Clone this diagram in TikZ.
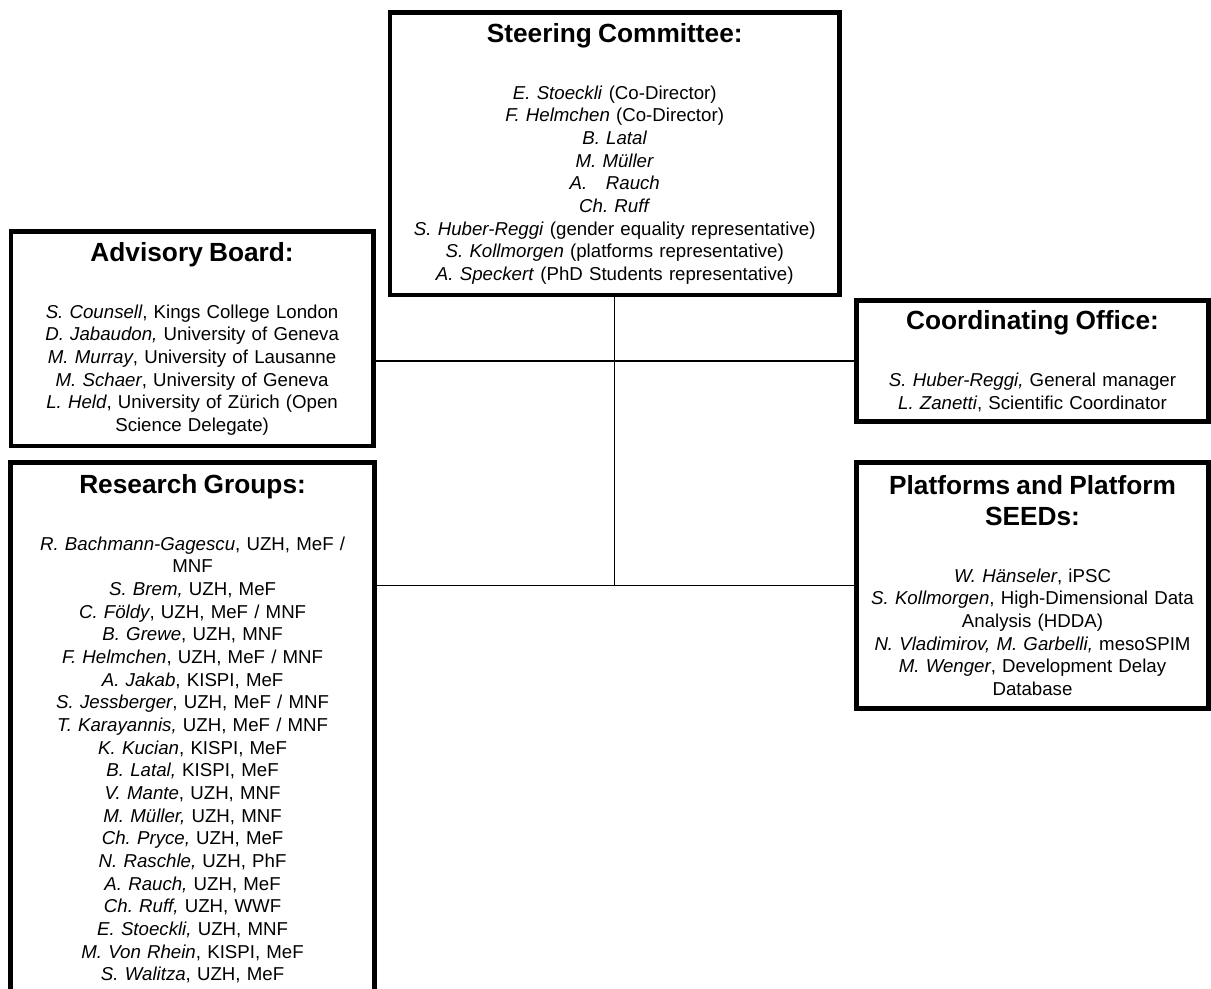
\documentclass[tikz,border=0pt]{standalone}
\usepackage{fontspec}
\setmainfont{Liberation Sans}
\frenchspacing
\newcommand{\boxtitle}[1]{{\fontsize{19.7}{23.5}\selectfont\bfseries #1}}

\begin{document}
\begin{tikzpicture}[x=0.75pt,y=-0.75pt,every node/.style={draw,line width=3.3pt,align=center,inner sep=2pt,font=\fontsize{14}{17}\selectfont}]
      \useasboundingbox (0,0) rectangle (1211,989);
      \node[minimum width=337pt,minimum height=212pt,text width=325pt] (sc) at (614.75,153.75) {\boxtitle{Steering Committee:}\\[25.75pt]
        \textit{E. Stoeckli} (Co-Director)\\
        \textit{F. Helmchen} (Co-Director)\\
        \textit{B. Latal}\\
        \textit{M. M\"uller}\\
        \textit{A.\hspace{1em}Rauch}\\
        \textit{Ch. Ruff}\\
        \textit{S. Huber-Reggi} (gender equality representative)\\
        \textit{S. Kollmorgen} (platforms representative)\\
        \textit{A. Speckert} (PhD Students representative)};
      \node[minimum width=272pt,minimum height=161pt,text width=260pt] (ab) at (192.1,338.75) {\boxtitle{Advisory Board:}\\[25.75pt]
        \textit{S. Counsell}, Kings College London\\
        \textit{D. Jabaudon,} University of Geneva\\
        \textit{M. Murray}, University of Lausanne\\
        \textit{M. Schaer}, University of Geneva\\
        \textit{L. Held}, University of Z\"urich (Open\\
        Science Delegate)};
      \node[minimum width=264pt,minimum height=91pt,text width=256pt] (co) at (1032.5,361) {\boxtitle{Coordinating Office:}\\[25.75pt]
        \textit{S. Huber-Reggi,} General manager\\
        \textit{L. Zanetti}, Scientific Coordinator};
      \node[minimum width=264pt,minimum height=184.5pt,text width=256pt] (pl) at (1032.5,585.5) {\boxtitle{Platforms and Platform}\\[6.25pt]
        \boxtitle{SEEDs:}\\[25.75pt]
        \textit{W. H\"anseler}, iPSC\\
        \textit{S. Kollmorgen}, High-Dimensional Data\\
        Analysis (HDDA)\\
        \textit{N. Vladimirov, M. Garbelli,} mesoSPIM\\
        \textit{M. Wenger}, Development Delay\\
        Database};
      \node[minimum width=273pt,minimum height=399.5pt,text width=262pt] (rg) at (192.6,728.75) {\boxtitle{Research Groups:}\\[25.75pt]
        \textit{R. Bachmann-Gagescu}, UZH, MeF /\\
        MNF\\
        \textit{S. Brem,} UZH, MeF\\
        \textit{C. F\"oldy}, UZH, MeF / MNF\\
        \textit{B. Grewe}, UZH, MNF\\
        \textit{F. Helmchen}, UZH, MeF / MNF\\
        \textit{A. Jakab}, KISPI, MeF\\
        \textit{S. Jessberger}, UZH, MeF / MNF\\
        \textit{T. Karayannis,} UZH, MeF / MNF\\
        \textit{K. Kucian}, KISPI, MeF\\
        \textit{B. Latal,} KISPI, MeF\\
        \textit{V. Mante}, UZH, MNF\\
        \textit{M. M\"uller,} UZH, MNF\\
        \textit{Ch. Pryce,} UZH, MeF\\
        \textit{N. Raschle,} UZH, PhF\\
        \textit{A. Rauch,} UZH, MeF\\
        \textit{Ch. Ruff,} UZH, WWF\\
        \textit{E. Stoeckli,} UZH, MNF\\
        \textit{M. Von Rhein}, KISPI, MeF\\
        \textit{S. Walitza}, UZH, MeF};
      \draw[line width=1pt] (sc.south) -- (sc.south |- pl.west);
      \draw[line width=1pt] (ab.east |- co.west) -- (co.west);
      \draw[line width=1pt] (rg.east |- pl.west) -- (pl.west);
    \end{tikzpicture}
\end{document}
